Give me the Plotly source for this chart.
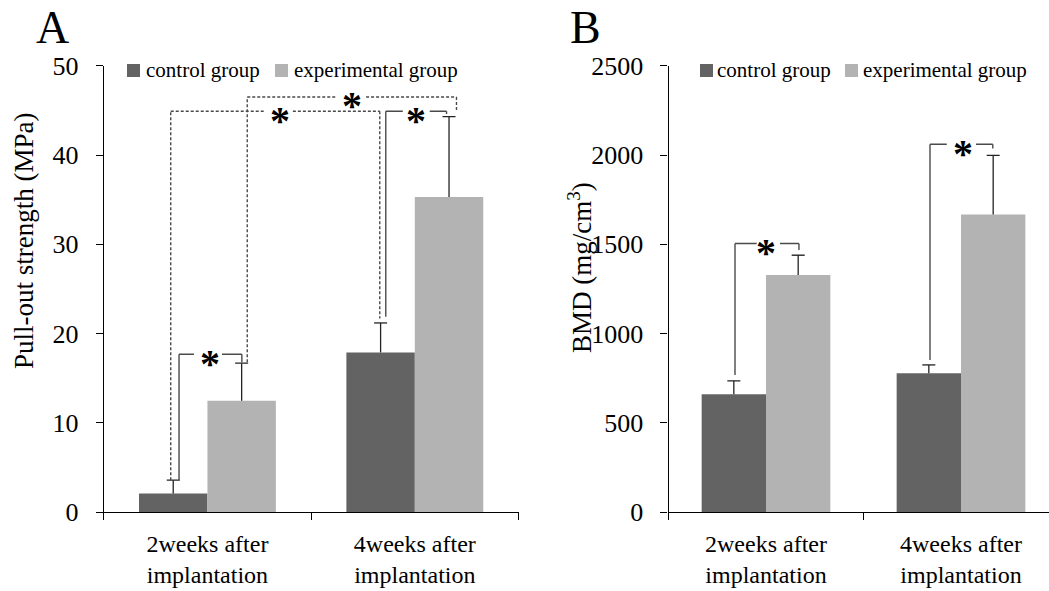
import plotly.graph_objects as go

# ---------------- data ----------------
categories = ["2weeks after<br>implantation", "4weeks after<br>implantation"]
series_names = ["control group", "experimental group"]

pull_control = [2.1, 17.9]
pull_control_err = [1.5, 3.3]
pull_exp = [12.5, 35.3]
pull_exp_err = [4.2, 9.0]

bmd_control = [661, 779]
bmd_control_err = [75, 46]
bmd_exp = [1328, 1667]
bmd_exp_err = [111, 331]

yticks_A = [0, 10, 20, 30, 40, 50]
yticks_B = [0, 500, 1000, 1500, 2000, 2500]

# ---------------- style / layout ----------------
W, H = 1049, 591
FONT = "Liberation Serif"
C_CTRL = "#636363"
C_EXP = "#b3b3b3"
BRACKET_COLOR = "#4a4a4a"
BARGAP = 0.34
BAR_W = (1 - BARGAP) / 2


def px(xp):
    return xp / W


def py(yp):
    return 1 - yp / H


panels = [
    dict(name="A", xa="x", ya="y", xdom=[px(103.75), px(518.5)], xr=[-0.5, 1.5],
         ydom=[py(512.3), py(65.7)], yr=[0, 50], ticks=yticks_A,
         ctrl=pull_control, ctrl_err=pull_control_err, exp=pull_exp, exp_err=pull_exp_err,
         ppu=207.5, title="Pull-out strength (MPa)", title_x=24, title_y=241,
         letter_x=36, leg_sq=[127, 275], leg_tx=[144, 292]),
    dict(name="B", xa="x2", ya="y2", xdom=[px(668.5), 1.0], xr=[-0.5, (W - 766) / 195],
         ydom=[py(512.3), py(65.7)], yr=[0, 2500], ticks=yticks_B,
         ctrl=bmd_control, ctrl_err=bmd_control_err, exp=bmd_exp, exp_err=bmd_exp_err,
         ppu=195.0, title="BMD (mg/cm<sup>3</sup>)", title_x=580, title_y=268,
         letter_x=570, leg_sq=[700, 845], leg_tx=[715, 861]),
]

# brackets: (x_left, x_right, y_top, y_left_bottom, y_right_bottom, star_x, gap_l, gap_r, dashed)
brackets_A = [
    (-0.137, 0.166, 17.7, 3.6, 16.8, 0.012, -0.065, 0.070, False),
    (-0.177, 0.831, 44.9, 3.6, 21.7, 0.349, 0.277, 0.412, True),
    (0.192, 1.201, 46.5, 16.8, 45.0, 0.697, 0.620, 0.765, True),
    (0.860, 1.153, 44.9, 21.9, 44.6, 1.008, 0.942, 1.072, False),
]
brackets_B = [
    (-0.159, 0.169, 1505, 769, 1468, -0.002, -0.048, 0.072, False),
    (0.841, 1.163, 2060, 853, 2036, 1.009, 0.927, 1.077, False),
]

fig = go.Figure()
shapes = []
annotations = []

for p, brs in zip(panels, [brackets_A, brackets_B]):
    xa, ya = p["xa"], p["ya"]
    for s, (vals, errs, col) in enumerate([(p["ctrl"], p["ctrl_err"], C_CTRL),
                                           (p["exp"], p["exp_err"], C_EXP)]):
        fig.add_trace(go.Bar(
            x=categories, y=vals, name=series_names[s], marker=dict(color=col, line=dict(width=0)),
            xaxis=xa, yaxis=ya, showlegend=False, offsetgroup=str(s), hoverinfo="skip"))
        # one-sided error bars drawn in data coordinates
        cap = 6.5 / p["ppu"]
        for i, (v, e) in enumerate(zip(vals, errs)):
            xc = i + (s - 0.5) * BAR_W
            shapes.append(dict(type="line", xref=xa, yref=ya, x0=xc, x1=xc, y0=v, y1=v + e,
                               line=dict(color="#222222", width=1.3)))
            shapes.append(dict(type="line", xref=xa, yref=ya, x0=xc - cap, x1=xc + cap,
                               y0=v + e, y1=v + e, line=dict(color="#222222", width=1.3)))
    # significance brackets
    for (xl, xr_, yt, ylb, yrb, sx, gl, gr, dashed) in brs:
        ln = dict(color=BRACKET_COLOR, width=1.4, dash="3px,2px" if dashed else "solid")
        for seg in [(xl, ylb, xl, yt), (xl, yt, gl, yt), (gr, yt, xr_, yt), (xr_, yt, xr_, yrb)]:
            shapes.append(dict(type="line", xref=xa, yref=ya, x0=seg[0], y0=seg[1],
                               x1=seg[2], y1=seg[3], line=ln))
        annotations.append(dict(x=sx, y=yt, xref=xa, yref=ya, text="<b>*</b>", showarrow=False,
                                font=dict(family=FONT, size=40, color="black"),
                                xanchor="center", yanchor="middle", yshift=-9))
    # axis title
    annotations.append(dict(x=px(p["title_x"]), y=py(p["title_y"]), xref="paper", yref="paper",
                            text=p["title"], textangle=-90, showarrow=False,
                            font=dict(family=FONT, size=27, color="black"),
                            xanchor="center", yanchor="middle"))
    # panel letter
    annotations.append(dict(x=px(p["letter_x"] - 2), y=1.0, xref="paper", yref="paper",
                            text=p["name"], showarrow=False,
                            font=dict(family=FONT, size=46, color="black"),
                            xanchor="left", yanchor="top"))
    # legend
    for sq, tx, col, nm in zip(p["leg_sq"], p["leg_tx"], [C_CTRL, C_EXP], series_names):
        shapes.append(dict(type="rect", xref="paper", yref="paper", x0=px(sq), x1=px(sq + 13),
                           y0=py(64), y1=py(77), fillcolor=col, line=dict(width=0)))
        annotations.append(dict(x=px(tx), y=py(70.5), xref="paper", yref="paper", text=nm,
                                showarrow=False, font=dict(family=FONT, size=21, color="black"),
                                xanchor="left", yanchor="middle"))

axis_common = dict(showline=True, linecolor="black", linewidth=1.3, ticks="outside",
                   tickcolor="black", tickwidth=1.3, ticklen=7, showgrid=False, zeroline=False,
                   automargin=False)

layout = dict(width=W, height=H, margin=dict(l=0, r=0, t=0, b=0, pad=0, autoexpand=False),
              paper_bgcolor="white", plot_bgcolor="white", barmode="group",
              bargap=BARGAP, bargroupgap=0, showlegend=False,
              shapes=shapes, annotations=annotations)
for k, p in enumerate(panels):
    sx = "" if k == 0 else str(k + 1)
    layout["xaxis" + sx] = dict(axis_common, domain=p["xdom"], range=p["xr"], type="category",
                                tickson="boundaries", anchor="y" + sx, ticklabelstandoff=10,
                                tickfont=dict(family=FONT, size=24, color="black"))
    layout["yaxis" + sx] = dict(axis_common, domain=p["ydom"], range=p["yr"], tickvals=p["ticks"],
                                anchor="x" + sx, ticklabelstandoff=12,
                                tickfont=dict(family=FONT, size=26, color="black"))

fig.update_layout(**layout)
fig.write_html("out.html", config={"displayModeBar": False},
               post_script="document.body.style.margin='0px';")
